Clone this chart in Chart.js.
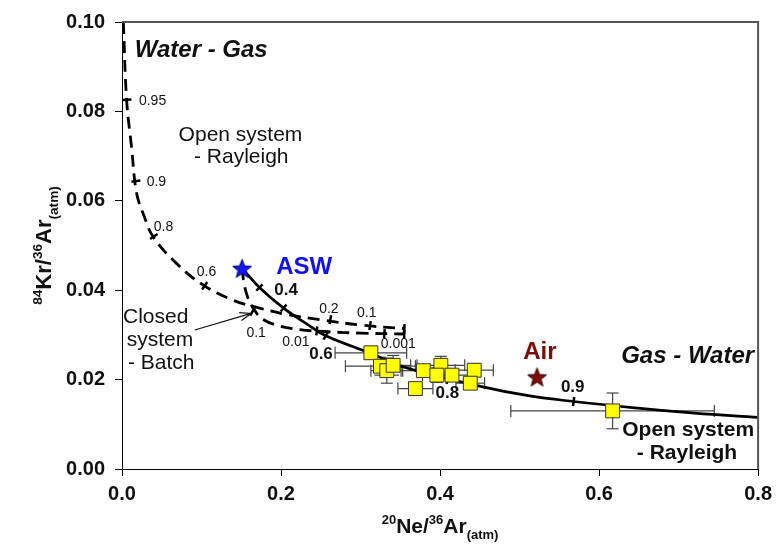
<!DOCTYPE html>
<html>
<head>
<meta charset="utf-8">
<script src="https://cdn.jsdelivr.net/npm/chart.js@4.4.1/dist/chart.umd.min.js"></script>
<style>
  html, body { margin: 0; padding: 0; background: #fff; }
  #wrap { width: 778px; height: 553px; }
</style>
</head>
<body>
<div id="wrap"><canvas id="chart"></canvas></div>
<script>
// --- measured samples (20Ne/36Ar, 84Kr/36Ar) with 1-sigma errors
var sampleX    = [0.313, 0.325, 0.333, 0.341, 0.379, 0.401, 0.396, 0.415, 0.443, 0.438, 0.369, 0.617];
var sampleY    = [0.0260, 0.0230, 0.0220, 0.0232, 0.0220, 0.0232, 0.0210, 0.0210, 0.0221, 0.0192, 0.0180, 0.0130];
var sampleXErr = [0.045, 0.044, 0.020, 0.022, 0.028, 0.030, 0.018, 0.022, 0.024, 0.018, 0.022, 0.128];
var sampleYErr = [0.0012, 0.0020, 0.0028, 0.0022, 0.0012, 0.0020, 0.0016, 0.0012, 0.0014, 0.0012, 0.0008, 0.0040];

// end members
var aswX = [0.151], aswY = [0.0449];
var airX = [0.522], airY = [0.0206];

// open system Rayleigh, water -> gas (dashed)
var wgX = [0.0017, 0.0058, 0.0120, 0.0184, 0.0280, 0.039, 0.0685, 0.1018, 0.139, 0.1686, 0.206, 0.25, 0.30, 0.356];
var wgY = [0.1000, 0.0826, 0.0720, 0.0617, 0.0565, 0.0520, 0.0460, 0.0412, 0.0378, 0.0362, 0.0346, 0.0334, 0.0322, 0.0314];
var wgTickX = [0.0062, 0.0175, 0.040, 0.104, 0.262, 0.312, 0.355];
var wgTickY = [0.0826, 0.0644, 0.0520, 0.0410, 0.0334, 0.0321, 0.0314];

// closed system batch (dashed)
var cbX = [0.151, 0.1535, 0.158, 0.1665, 0.177, 0.198, 0.223, 0.26, 0.30, 0.356];
var cbY = [0.0449, 0.0415, 0.0385, 0.0356, 0.0335, 0.0320, 0.0312, 0.0307, 0.0304, 0.0302];
var cbTickX = [0.164, 0.245, 0.330, 0.355];
var cbTickY = [0.0352, 0.0309, 0.0303, 0.0302];

// open system Rayleigh, gas -> water (solid)
var gwX = [0.151, 0.1728, 0.2032, 0.2313, 0.2563, 0.3126, 0.3564, 0.448, 0.511, 0.568, 0.65, 0.72, 0.80];
var gwY = [0.0449, 0.0406, 0.0360, 0.0326, 0.0298, 0.0259, 0.0227, 0.0186, 0.0164, 0.0151, 0.0136, 0.0125, 0.01157];
var gwTickX = [0.1728, 0.2032, 0.2563, 0.410, 0.568];
var gwTickY = [0.0406, 0.0360, 0.0298, 0.0200, 0.0151];

var xTicks = [0, 0.2, 0.4, 0.6, 0.8];
var yTicks = [0, 0.02, 0.04, 0.06, 0.08, 0.10];

function pts(xs, ys) {
  return xs.map(function (x, i) { return { x: x, y: ys[i] }; });
}

function makeStar(fill, stroke, r) {
  var s = Math.ceil(r * 2 + 3);
  var c = document.createElement('canvas');
  c.width = s; c.height = s;
  var g = c.getContext('2d');
  g.beginPath();
  for (var i = 0; i < 10; i++) {
    var rr = i % 2 ? r * 0.42 : r;
    var a = -Math.PI / 2 + i * Math.PI / 5;
    g.lineTo(s / 2 + rr * Math.cos(a), s / 2 + 1 + rr * Math.sin(a));
  }
  g.closePath();
  g.fillStyle = fill; g.fill();
  g.strokeStyle = stroke; g.lineWidth = 1; g.stroke();
  return c;
}

var FONT = 'Arial, "Liberation Sans", sans-serif';

// text placed in data units
var notes = [
  { t: 'Water - Gas', x: 0.016, y: 0.0937, f: 'italic bold 24px', a: 'left' },
  { t: 'Open system', x: 0.149, y: 0.0747, f: '21px', a: 'center' },
  { t: '- Rayleigh', x: 0.150, y: 0.0697, f: '21px', a: 'center' },
  { t: '0.95', x: 0.0213, y: 0.0823, f: '14px', a: 'left' },
  { t: '0.9', x: 0.031, y: 0.0642, f: '14px', a: 'left' },
  { t: '0.8', x: 0.040, y: 0.0541, f: '14px', a: 'left' },
  { t: '0.6', x: 0.094, y: 0.0441, f: '14px', a: 'left' },
  { t: 'ASW', x: 0.194, y: 0.0452, f: 'bold 24px', a: 'left', c: '#1010f0' },
  { t: '0.4', x: 0.1915, y: 0.0400, f: 'bold 17px', a: 'left' },
  { t: '0.2', x: 0.248, y: 0.0358, f: '14px', a: 'left' },
  { t: '0.1', x: 0.2955, y: 0.0349, f: '14px', a: 'left' },
  { t: '0.001', x: 0.3255, y: 0.0280, f: '14px', a: 'left' },
  { t: '0.01', x: 0.2016, y: 0.0284, f: '14px', a: 'left' },
  { t: '0.1', x: 0.1565, y: 0.0304, f: '14px', a: 'left' },
  { t: '0.6', x: 0.2354, y: 0.0257, f: 'bold 17px', a: 'left' },
  { t: '0.8', x: 0.3944, y: 0.0170, f: 'bold 17px', a: 'left' },
  { t: 'Closed', x: 0.0013, y: 0.0340, f: '21px', a: 'left' },
  { t: 'system', x: 0.006, y: 0.0289, f: '21px', a: 'left' },
  { t: '- Batch', x: 0.0075, y: 0.0237, f: '21px', a: 'left' },
  { t: 'Air', x: 0.5045, y: 0.0262, f: 'bold 24px', a: 'left', c: '#7d0d0d' },
  { t: 'Gas - Water', x: 0.795, y: 0.0251, f: 'italic bold 24px', a: 'right' },
  { t: '0.9', x: 0.552, y: 0.0183, f: 'bold 17px', a: 'left' },
  { t: 'Open system', x: 0.795, y: 0.0087, f: 'bold 21px', a: 'right' },
  { t: '- Rayleigh', x: 0.7737, y: 0.0036, f: 'bold 21px', a: 'right' }
];
var arrowFrom = { x: 0.0914, y: 0.0311 }, arrowTo = { x: 0.1624, y: 0.0348 };

function drawRich(ctx, parts, size) {
  var w = 0;
  parts.forEach(function (p) {
    ctx.font = 'bold ' + (p.s ? size * 0.62 : size) + 'px ' + FONT;
    w += ctx.measureText(p.t).width;
  });
  var x = -w / 2;
  parts.forEach(function (p) {
    var s = p.s ? size * 0.62 : size;
    ctx.font = 'bold ' + s + 'px ' + FONT;
    var dy = p.s === 'up' ? -size * 0.42 : (p.s === 'dn' ? size * 0.3 : 0);
    ctx.fillText(p.t, x, dy);
    x += ctx.measureText(p.t).width;
  });
}

var extras = {
  id: 'extras',
  beforeDatasetsDraw: function (chart) {
    var xs = chart.scales.x, ys = chart.scales.y, ctx = chart.ctx;
    ctx.save();
    ctx.strokeStyle = '#444';
    ctx.lineWidth = 1.2;
    function seg(a, b, c, d) { ctx.beginPath(); ctx.moveTo(a, b); ctx.lineTo(c, d); ctx.stroke(); }
    for (var i = 0; i < sampleX.length; i++) {
      var px = xs.getPixelForValue(sampleX[i]), py = ys.getPixelForValue(sampleY[i]);
      var l = xs.getPixelForValue(sampleX[i] - sampleXErr[i]);
      var r = xs.getPixelForValue(sampleX[i] + sampleXErr[i]);
      seg(l, py, r, py); seg(l, py - 6, l, py + 6); seg(r, py - 6, r, py + 6);
      var t = ys.getPixelForValue(sampleY[i] + sampleYErr[i]);
      var b = ys.getPixelForValue(sampleY[i] - sampleYErr[i]);
      seg(px, t, px, b); seg(px - 6, t, px + 6, t); seg(px - 6, b, px + 6, b);
    }
    ctx.restore();
  },
  afterDatasetsDraw: function (chart) {
    var xs = chart.scales.x, ys = chart.scales.y, ctx = chart.ctx;
    ctx.save();
    ctx.textBaseline = 'middle';
    notes.forEach(function (n) {
      ctx.font = n.f + ' ' + FONT;
      ctx.fillStyle = n.c || '#111';
      ctx.textAlign = n.a;
      ctx.fillText(n.t, xs.getPixelForValue(n.x), ys.getPixelForValue(n.y));
    });
    // arrow
    var x1 = xs.getPixelForValue(arrowFrom.x), y1 = ys.getPixelForValue(arrowFrom.y);
    var x2 = xs.getPixelForValue(arrowTo.x), y2 = ys.getPixelForValue(arrowTo.y);
    var ang = Math.atan2(y2 - y1, x2 - x1);
    ctx.strokeStyle = '#111'; ctx.lineWidth = 1.2;
    ctx.beginPath(); ctx.moveTo(x1, y1); ctx.lineTo(x2, y2); ctx.stroke();
    ctx.beginPath();
    ctx.moveTo(x2 - 12 * Math.cos(ang - 0.35), y2 - 12 * Math.sin(ang - 0.35));
    ctx.lineTo(x2, y2);
    ctx.lineTo(x2 - 12 * Math.cos(ang + 0.35), y2 - 12 * Math.sin(ang + 0.35));
    ctx.stroke();
    ctx.restore();
  },
  afterDraw: function (chart) {
    var ca = chart.chartArea, ctx = chart.ctx;
    ctx.save();
    ctx.strokeStyle = '#555'; ctx.lineWidth = 2;
    ctx.beginPath();
    ctx.moveTo(ca.left, ca.top); ctx.lineTo(ca.right, ca.top); ctx.lineTo(ca.right, ca.bottom);
    ctx.stroke();
    ctx.fillStyle = '#111';
    ctx.textAlign = 'left';
    ctx.textBaseline = 'alphabetic';
    ctx.translate((ca.left + ca.right) / 2, 533);
    drawRich(ctx, [{ t: '20', s: 'up' }, { t: 'Ne/' }, { t: '36', s: 'up' }, { t: 'Ar' }, { t: '(atm)', s: 'dn' }], 21);
    ctx.setTransform(1, 0, 0, 1, 0, 0);
    ctx.translate(51, (ca.top + ca.bottom) / 2);
    ctx.rotate(-Math.PI / 2);
    drawRich(ctx, [{ t: '84', s: 'up' }, { t: 'Kr/' }, { t: '36', s: 'up' }, { t: 'Ar' }, { t: '(atm)', s: 'dn' }], 22);
    ctx.restore();
  }
};

var tickFont = { family: FONT, size: 20, weight: 'bold' };

new Chart(document.getElementById('chart'), {
  type: 'scatter',
  data: {
    datasets: [
      { data: pts(aswX, aswY), pointStyle: makeStar('#1414f5', '#000060', 10), pointRadius: 10 },
      { data: pts(airX, airY), pointStyle: makeStar('#7d0d0d', '#300000', 10), pointRadius: 10 },
      { data: pts(sampleX, sampleY), pointStyle: 'rect', pointRadius: 9.8,
        backgroundColor: '#ffff00', borderColor: '#333', borderWidth: 1 },
      { data: pts(gwTickX, gwTickY), pointStyle: 'line', pointRadius: 4.5,
        rotation: [-46, -50, -59, -70, -82], borderColor: '#000', borderWidth: 2.5 },
      { data: pts(wgTickX, wgTickY), pointStyle: 'line', pointRadius: 4.5,
        rotation: [-3, -8, -34, -56, -80, -82, -85], borderColor: '#000', borderWidth: 2.5 },
      { data: pts(cbTickX, cbTickY), pointStyle: 'line', pointRadius: 4.5,
        rotation: [-60, -84, -86, -88], borderColor: '#000', borderWidth: 2.5 },
      { data: pts(gwX, gwY), showLine: true, pointRadius: 0, borderColor: '#000',
        borderWidth: 2.7, tension: 0.4 },
      { data: pts(wgX, wgY), showLine: true, pointRadius: 0, borderColor: '#000',
        borderWidth: 2.8, borderDash: [12, 7], tension: 0.4 },
      { data: pts(cbX, cbY), showLine: true, pointRadius: 0, borderColor: '#000',
        borderWidth: 2.8, borderDash: [12, 7], tension: 0.4 }
    ]
  },
  options: {
    responsive: true,
    maintainAspectRatio: false,
    animation: false,
    events: [],
    layout: { padding: { top: 22, right: 17, left: 0, bottom: 0 } },
    plugins: { legend: { display: false }, tooltip: { enabled: false } },
    scales: {
      x: {
        type: 'linear', min: 0, max: 0.8,
        afterBuildTicks: function (s) { s.ticks = xTicks.map(function (v) { return { value: v }; }); },
        afterFit: function (s) { s.height = 84; },
        ticks: { callback: function (v) { return v.toFixed(1); }, font: tickFont, color: '#111', padding: 6, maxRotation: 0 },
        grid: { drawOnChartArea: false, tickLength: 7, color: '#000' },
        border: { color: '#000', width: 1 }
      },
      y: {
        type: 'linear', min: 0, max: 0.1,
        afterBuildTicks: function (s) { s.ticks = yTicks.map(function (v) { return { value: v }; }); },
        afterFit: function (s) { s.width = 122; },
        ticks: { callback: function (v) { return v.toFixed(2); }, font: tickFont, color: '#111', padding: 10 },
        grid: { drawOnChartArea: false, tickLength: 7, color: '#000' },
        border: { color: '#000', width: 1 }
      }
    }
  },
  plugins: [extras]
});
</script>
</body>
</html>
